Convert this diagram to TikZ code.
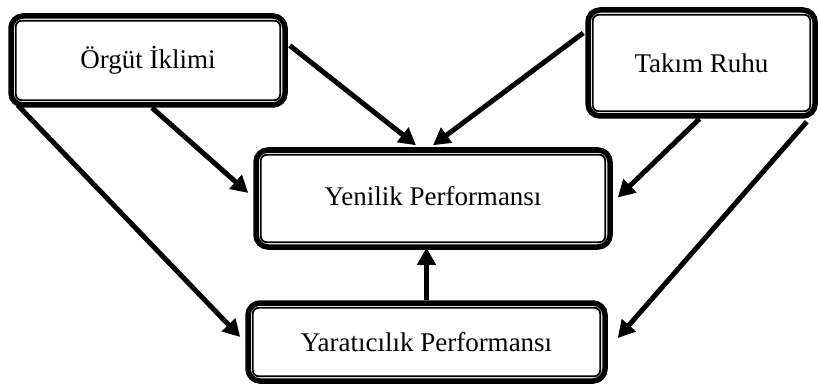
\documentclass[tikz,border=0pt]{standalone}
\usepackage{fontspec}
\setmainfont{Liberation Serif}
\usetikzlibrary{arrows.meta,calc}
\tikzset{
  boxnode/.style={draw=black, line width=5.5pt, rounded corners=12pt, fill=white,
    inner sep=0pt, font=\fontsize{27}{31}\selectfont},
  innerline/.style={draw=black, line width=1.8pt, rounded corners=6pt},
  conn/.style={line width=5pt, -{Triangle[length=17pt,width=18pt]}}
}
\begin{document}
\begin{tikzpicture}[x=1pt,y=-1pt]
\useasboundingbox (0,0) rectangle (819,385);
\node[boxnode, minimum width=274pt, minimum height=89pt] (A) at (148,60.5) {Örgüt İklimi};
\node[boxnode, minimum width=227pt, minimum height=106pt] (B) at (701.5,63) {Takım Ruhu};
\node[boxnode, minimum width=354pt, minimum height=97pt] (C) at (433,198.5) {\raisebox{5pt}{Yenilik Performansı}};
\node[boxnode, minimum width=357pt, minimum height=78pt] (D) at (426.5,342) {Yaratıcılık Performansı};
\foreach \n in {A,B,C,D}
  \draw[innerline] ([shift={(7.5pt,7.5pt)}]\n.south west) rectangle ([shift={(-7.5pt,-7.5pt)}]\n.north east);
% connectors
\draw[conn] ([shift={(9.5pt,2.5pt)}]A.south west) -- ([shift={(-5pt,5pt)}]D.west);
\draw[conn] ([xshift=4pt]A.south) -- ([shift={(-5pt,5.5pt)}]C.west);
\draw[conn] ([shift={(2pt,15pt)}]A.east) -- ([shift={(-17pt,2pt)}]C.north);
\draw[conn] ([shift={(-2pt,30pt)}]B.west) -- ([shift={(0pt,2pt)}]C.north);
\draw[conn] ([xshift=-2pt]B.south) -- ([shift={(5pt,1pt)}]C.east);
\draw[conn] ([shift={(-11pt,-3pt)}]B.south east) -- ([shift={(10pt,4pt)}]D.east);
\draw[conn] (D.north) -- ([yshift=2pt]D.north |- C.south);
\end{tikzpicture}
\end{document}
